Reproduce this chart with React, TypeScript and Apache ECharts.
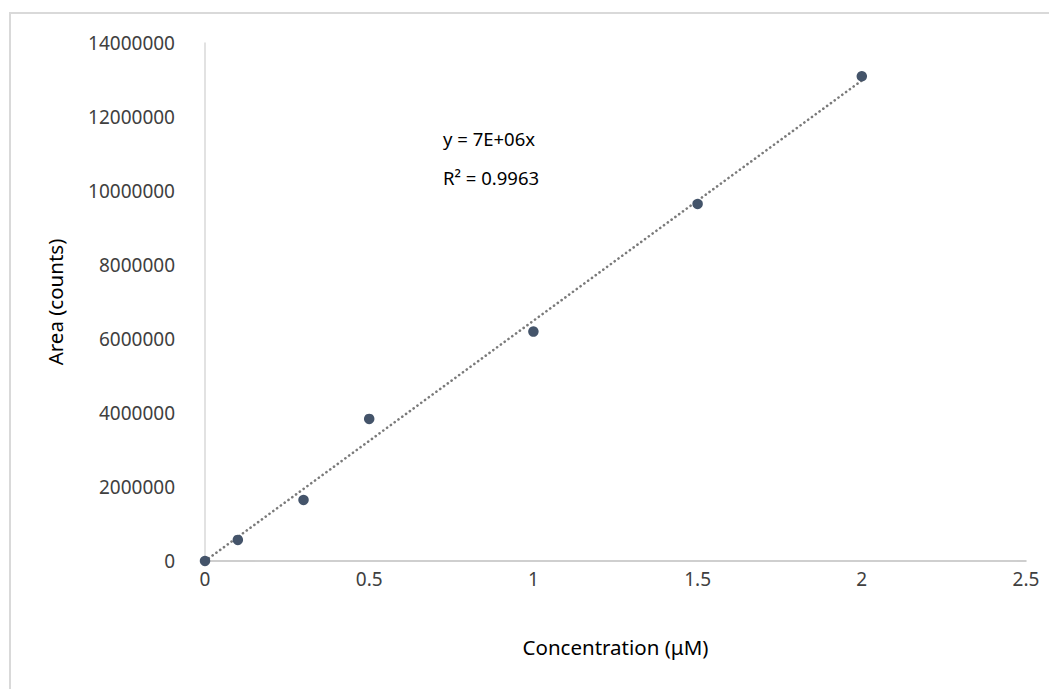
import React, { useEffect, useRef } from "react";
import * as echarts from "echarts";

const concentrations = [0, 0.1, 0.3, 0.5, 1, 1.5, 2];
const areas = [0, 570000, 1650000, 3840000, 6200000, 9650000, 13100000];
const equationText = "y = 7E+06x";
const r2Text = "R² = 0.9963";
const xTitle = "Concentration (μM)";
const yTitle = "Area (counts)";

const FONT = "Noto Sans";

export default function App() {
  const ref = useRef<HTMLDivElement>(null);
  useEffect(() => {
    if (!ref.current) return;
    const chart = echarts.init(ref.current, null, { renderer: "svg" });
    let sxy = 0, sxx = 0;
    concentrations.forEach((x, i) => { sxy += x * areas[i]; sxx += x * x; });
    const slope = sxy / sxx;
    const xMax = concentrations[concentrations.length - 1];
    const trend = [[0, 0], [xMax, slope * xMax]];
    chart.setOption({
      animation: false,
      backgroundColor: "#ffffff",
      grid: { left: 205, top: 43, right: 23, bottom: 128 },
      xAxis: {
        type: "value",
        min: 0,
        max: 2.5,
        interval: 0.5,
        axisLine: { show: true, lineStyle: { color: "#bfbfbf", width: 1.5 } },
        axisTick: { show: false },
        splitLine: { show: false },
        axisLabel: { color: "#404040", fontSize: 19, fontFamily: FONT, margin: 8, formatter: (v: number) => String(v) },
        name: xTitle,
        nameLocation: "middle",
        nameGap: 75,
        nameTextStyle: { color: "#000000", fontSize: 20.5, fontFamily: FONT },
      },
      yAxis: {
        type: "value",
        min: 0,
        max: 14000000,
        interval: 2000000,
        axisLine: { show: true, lineStyle: { color: "#d9d9d9", width: 1.5 } },
        axisTick: { show: false },
        splitLine: { show: false },
        axisLabel: { color: "#404040", fontSize: 19, fontFamily: FONT, margin: 30, formatter: (v: number) => String(v) },
        name: yTitle,
        nameLocation: "middle",
        nameGap: 140,
        nameTextStyle: { color: "#000000", fontSize: 20.5, fontFamily: FONT },
      },
      series: [
        {
          type: "line",
          data: trend,
          symbol: "none",
          lineStyle: { color: "#7a7a7a", width: 2.6, type: [0.1, 4.6], cap: "round" },
          z: 1,
        },
        {
          type: "scatter",
          data: concentrations.map((x, i) => [x, areas[i]]),
          symbol: "circle",
          symbolSize: 10.5,
          itemStyle: { color: "#44546a", opacity: 1 },
          z: 2,
        },
      ],
      graphic: [
        {
          type: "rect",
          shape: { x: 10, y: 13, width: 1100, height: 700 },
          style: { fill: "none", stroke: "#d9d9d9", lineWidth: 2 },
          z: -1,
        },
        {
          type: "text",
          x: 443,
          y: 138,
          style: { text: equationText, fontSize: 18.5, fontFamily: FONT, fill: "#000000", verticalAlign: "middle" },
        },
        {
          type: "text",
          x: 443,
          y: 177,
          style: { text: r2Text, fontSize: 18.5, fontFamily: FONT, fill: "#000000", verticalAlign: "middle" },
        },
      ],
    });
    return () => chart.dispose();
  }, []);
  return (
    <div
      ref={ref}
      style={{ position: "fixed", left: 0, top: 0, width: 1049, height: 689 }}
    />
  );
}
